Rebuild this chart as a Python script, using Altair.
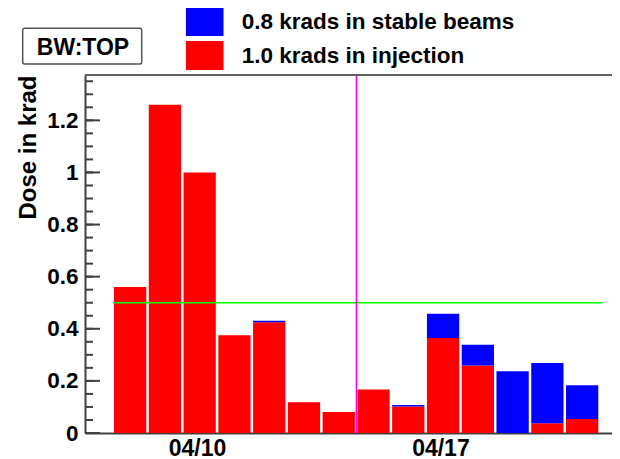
import altair as alt
import pandas as pd

# ---- data ----
bin_starts = [
    "2021-04-07T14:00:00Z", "2021-04-08T14:00:00Z", "2021-04-09T14:00:00Z",
    "2021-04-10T14:00:00Z", "2021-04-11T14:00:00Z", "2021-04-12T14:00:00Z",
    "2021-04-13T14:00:00Z", "2021-04-14T14:00:00Z", "2021-04-15T14:00:00Z",
    "2021-04-16T14:00:00Z", "2021-04-17T14:00:00Z", "2021-04-18T14:00:00Z",
    "2021-04-19T14:00:00Z", "2021-04-20T14:00:00Z",
]
bin_ends = bin_starts[1:] + ["2021-04-21T14:00:00Z"]
injection = [0.56, 1.26, 1.00, 0.375, 0.425, 0.118, 0.081,
             0.167, 0.102, 0.365, 0.259, 0.0, 0.037, 0.054]
stable = [0.0, 0.0, 0.0, 0.0, 0.006, 0.0, 0.0,
          0.0, 0.005, 0.093, 0.080, 0.237, 0.232, 0.129]
series_labels = ["0.8 krads in stable beams", "1.0 krads in injection"]
series_colors = ["#0000ff", "#ff0000"]
box_label = ["BW:TOP"]
y_title = "Dose in krad"
threshold = [0.5]
threshold_span = ["2021-04-07T14:00:00Z", "2021-04-21T16:00:00Z"]
marker_time = ["2021-04-14T14:00:00Z"]
major_ticks = [0.0, 0.2, 0.4, 0.6, 0.8, 1.0, 1.2]
minor_ticks = [round(k * 0.05, 2) for k in range(1, 28)]

W, H = 527, 358
FONT = "Liberation Sans"
AXC = "#404040"

rows = []
for s, e, r, b in zip(bin_starts, bin_ends, injection, stable):
    rows.append({"start": s, "end": e, "y0": 0.0, "y1": r, "series": series_labels[1]})
    if b > 0:
        rows.append({"start": s, "end": e, "y0": r, "y1": r + b, "series": series_labels[0]})
bars_df = pd.DataFrame(rows)

xscale = alt.Scale(type="utc",
                   domain=[alt.DateTime(year=2021, month=4, date=6, hours=18, minutes=40, utc=True),
                           alt.DateTime(year=2021, month=4, date=21, hours=22, minutes=26, utc=True)])
xaxis = alt.Axis(values=[alt.DateTime(year=2021, month=4, date=10, utc=True),
                         alt.DateTime(year=2021, month=4, date=17, utc=True)],
                 format="%m/%d", ticks=False, grid=False, title=None,
                 labelFontSize=23, labelFontWeight="bold", labelColor="black",
                 labelPadding=4, labelFlush=False, labelOverlap=False,
                 domainColor=AXC, domainWidth=2)
yscale = alt.Scale(domain=[0, 1.374], nice=False, zero=True)
yaxis = alt.Axis(values=major_ticks, format=".1~f", ticks=False, grid=False,
                 labelFontSize=22.5, labelFontWeight="bold", labelColor="black",
                 labelPadding=7, labelFlush=False, labelOverlap=False,
                 domainColor=AXC, domainWidth=2,
                 title=y_title, titleFontSize=24, titleFontWeight="bold",
                 titleColor="black", titleAngle=270, titleAlign="right",
                 titleBaseline="alphabetic", titleX=-50, titleY=0)


def X(f):
    return alt.X(f, scale=xscale, axis=xaxis)


def Y(f):
    return alt.Y(f, scale=yscale, axis=yaxis)


bars = alt.Chart(bars_df).mark_bar(xOffset=1, x2Offset=-1.5, opacity=1).encode(
    x=X("start:T"), x2="end:T", y=Y("y0:Q"), y2="y1:Q",
    color=alt.Color("series:N",
                    scale=alt.Scale(domain=series_labels, range=series_colors),
                    legend=alt.Legend(orient="none", legendX=100.7, legendY=-72.4,
                                      title=None, padding=0,
                                      symbolType="M-1,-0.77H1V0.77H-1Z",
                                      symbolSize=1414, symbolStrokeWidth=0,
                                      symbolOpacity=1,
                                      labelFontSize=22.5, labelFontWeight="bold",
                                      labelColor="black", labelOffset=18,
                                      labelLimit=400, rowPadding=-1.7)),
)

green = alt.Chart(pd.DataFrame({"x0": [threshold_span[0]], "x1": [threshold_span[1]],
                                "v": threshold})).mark_rule(
    color="#00ff00", strokeWidth=1.5).encode(x=X("x0:T"), x2="x1:T", y=Y("v:Q"))

magenta = alt.Chart(pd.DataFrame({"t": marker_time})).mark_rule(
    color="#ff00ff", strokeWidth=1.5).encode(x=X("t:T"))

major = alt.Chart(pd.DataFrame({"v": major_ticks})).mark_rule(
    color=AXC, strokeWidth=2).encode(y=Y("v:Q"), x=alt.value(0), x2=alt.value(15))
minor = alt.Chart(pd.DataFrame({"v": minor_ticks})).mark_rule(
    color=AXC, strokeWidth=2).encode(y=Y("v:Q"), x=alt.value(0), x2=alt.value(8))

label_df = pd.DataFrame({"label": box_label})
topline = alt.Chart(label_df).mark_rule(color="#606060", strokeWidth=2).encode(
    x=alt.value(0), x2=alt.value(W), y=alt.value(0))
box = alt.Chart(label_df).mark_rect(fill="white", stroke="#555555", strokeWidth=1.5,
                                    cornerRadius=2).encode(
    x=alt.value(-62.3), x2=alt.value(56.7), y=alt.value(-46.7), y2=alt.value(-11))
box_text = alt.Chart(label_df).mark_text(font=FONT, fontSize=23, fontWeight="bold",
                                         color="black", align="center",
                                         baseline="alphabetic").encode(
    text="label:N", x=alt.value(-2), y=alt.value(-20))

chart = alt.layer(bars, green, magenta, major, minor, topline, box, box_text).properties(
    width=W, height=H,
    autosize=alt.AutoSizeParams(type="none"),
    padding={"left": 77, "top": 67, "right": 0, "bottom": 26},
    background="white",
).configure(font=FONT).configure_view(strokeWidth=0)

chart.save("out.html", embed_options={"renderer": "svg", "actions": False})
